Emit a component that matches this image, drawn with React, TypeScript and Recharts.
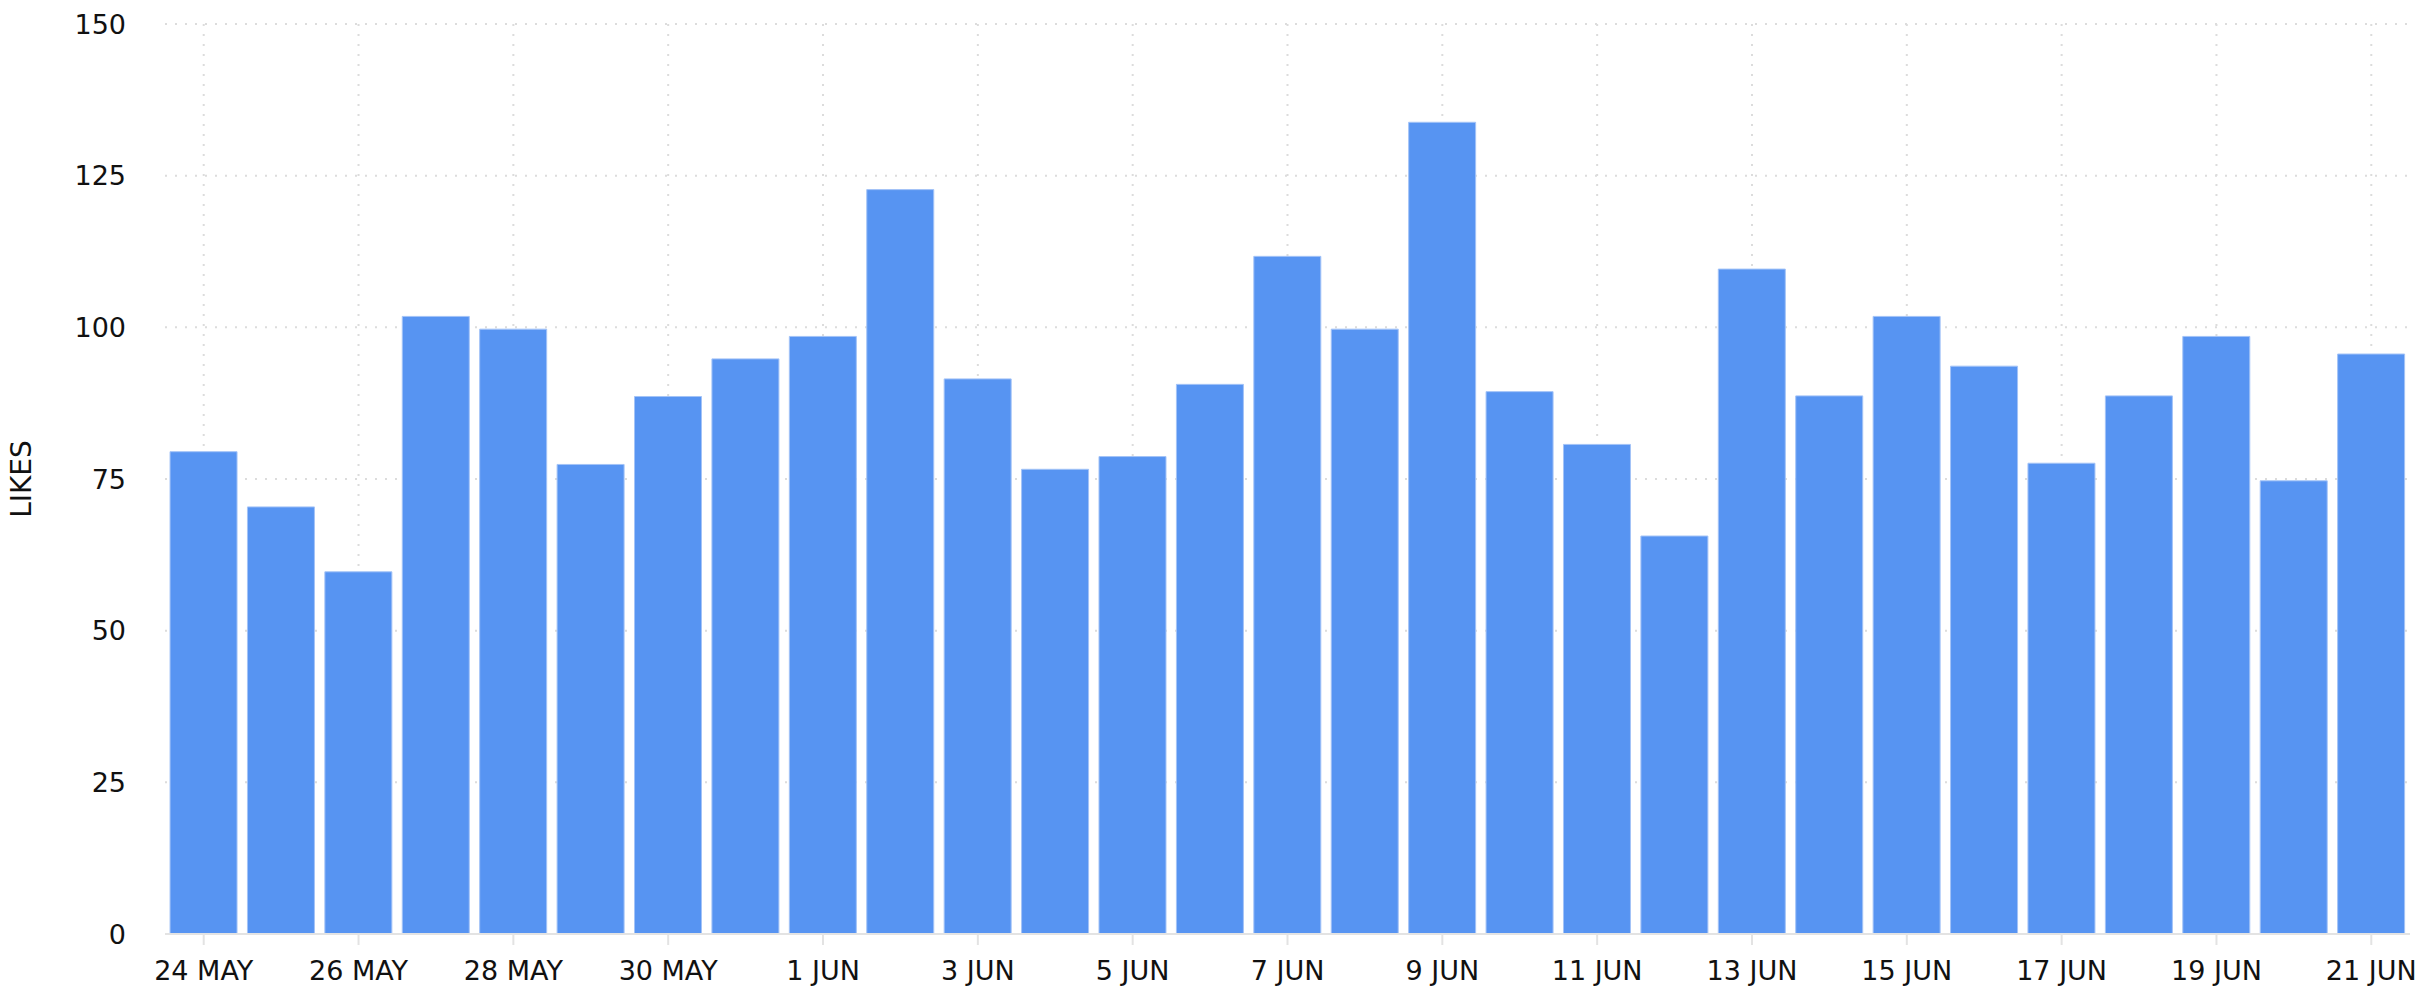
import { BarChart, Bar, XAxis, YAxis, CartesianGrid } from 'recharts';

// One label per day, 24 May to 21 Jun
const days = [
  '24 MAY', '25 MAY', '26 MAY', '27 MAY', '28 MAY', '29 MAY', '30 MAY', '31 MAY',
  '1 JUN', '2 JUN', '3 JUN', '4 JUN', '5 JUN', '6 JUN', '7 JUN', '8 JUN',
  '9 JUN', '10 JUN', '11 JUN', '12 JUN', '13 JUN', '14 JUN', '15 JUN', '16 JUN',
  '17 JUN', '18 JUN', '19 JUN', '20 JUN', '21 JUN',
];

const likes = [
  79.5, 70.4, 59.7, 101.8, 99.7, 77.4, 88.6, 94.8,
  98.5, 122.7, 91.5, 76.6, 78.7, 90.6, 111.7, 99.7,
  133.8, 89.4, 80.7, 65.6, 109.6, 88.7, 101.8, 93.6,
  77.6, 88.7, 98.5, 74.7, 95.6,
];

const yTicks = [0, 25, 50, 75, 100, 125, 150];

const data = days.map((day, i) => ({ day, likes: likes[i] }));

const FONT = 'DejaVu Sans';
const TEXT = '#111111';

export default function App() {
  return (
    <div style={{ position: 'absolute', left: 0, top: 0, background: '#ffffff' }}>
      <BarChart
        width={2425}
        height={1000}
        data={data}
        margin={{ top: 24, right: 15, bottom: 0, left: 0 }}
        barCategoryGap="6.5%"
      >
        <CartesianGrid stroke="#dcdcdc" strokeWidth={2} strokeDasharray="2 8" syncWithTicks />
        <XAxis
          dataKey="day"
          interval={1}
          height={66}
          tickSize={11}
          tickMargin={16}
          axisLine={{ stroke: '#e3e3e3', strokeWidth: 2 }}
          tickLine={{ stroke: '#e3e3e3', strokeWidth: 2 }}
          tick={{ fill: TEXT, fontSize: 27, fontFamily: FONT }}
        />
        <YAxis
          domain={[0, 150]}
          ticks={yTicks}
          width={165}
          axisLine={false}
          tickLine={false}
          tickMargin={33}
          tick={{ fill: TEXT, fontSize: 27, fontFamily: FONT }}
          label={{
            value: 'LIKES',
            angle: -90,
            position: 'insideLeft',
            offset: 21,
            style: { textAnchor: 'middle', fontSize: 28, fill: TEXT, fontFamily: FONT },
          }}
        />
        <Bar dataKey="likes" fill="#5794F2" stroke="#a3c3f7" strokeWidth={1} isAnimationActive={false} />
      </BarChart>
    </div>
  );
}
